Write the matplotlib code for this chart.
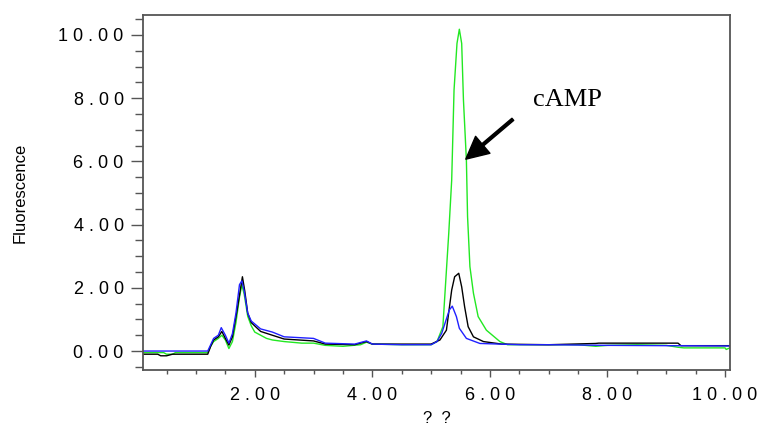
import matplotlib
matplotlib.use('Agg')
import matplotlib.pyplot as plt
from matplotlib.ticker import MultipleLocator, FuncFormatter

# retention time (x) and fluorescence (y)
green_x = [0.1, 0.45, 0.5, 0.6, 0.65, 1.2, 1.25, 1.3, 1.38, 1.44, 1.5, 1.56, 1.62, 1.68, 1.74, 1.78,
           1.82, 1.88, 1.94, 2.0, 2.1, 2.2, 2.3, 2.5, 2.8, 3.0, 3.2, 3.5, 3.8, 3.9, 4.0, 4.5, 5.0,
           5.1, 5.2, 5.3, 5.35, 5.39, 5.44, 5.48, 5.52, 5.55, 5.60, 5.62, 5.66, 5.72, 5.80, 5.94,
           6.17, 6.3, 7.0, 7.5, 7.8, 8.0, 8.5, 9.0, 9.2, 9.3, 10.0, 10.02, 10.08]
green_y = [-0.05, -0.05, -0.1, -0.1, -0.05, -0.05, 0.15, 0.3, 0.4, 0.5, 0.35, 0.08, 0.3, 0.9, 1.7,
           2.1, 1.8, 1.1, 0.8, 0.6, 0.5, 0.4, 0.35, 0.3, 0.25, 0.25, 0.18, 0.15, 0.2, 0.28, 0.22,
           0.2, 0.2, 0.3, 0.77, 3.73, 5.41, 8.26, 9.73, 10.18, 9.73, 7.94, 6.04, 4.25, 2.67, 1.83,
           1.09, 0.66, 0.3, 0.2, 0.2, 0.2, 0.15, 0.18, 0.2, 0.18, 0.12, 0.1, 0.1, 0.05, 0.1]

black_x = [0.1, 0.35, 0.4, 0.5, 0.6, 1.2, 1.25, 1.3, 1.38, 1.44, 1.5, 1.56, 1.62, 1.7, 1.76, 1.79,
           1.83, 1.88, 1.94, 2.1, 2.3, 2.5, 3.0, 3.2, 3.7, 3.9, 4.0, 4.5, 5.0, 5.15, 5.26, 5.35,
           5.40, 5.47, 5.52, 5.57, 5.63, 5.72, 5.89, 6.2, 7.0, 7.8, 7.85, 9.2, 9.25, 10.08]
black_y = [-0.1, -0.1, -0.15, -0.15, -0.1, -0.1, 0.15, 0.35, 0.45, 0.62, 0.4, 0.19, 0.45, 1.3, 2.0,
           2.35, 1.9, 1.2, 0.9, 0.62, 0.5, 0.38, 0.32, 0.22, 0.2, 0.3, 0.22, 0.22, 0.22, 0.35, 0.66,
           1.93, 2.35, 2.46, 2.03, 1.4, 0.77, 0.45, 0.3, 0.22, 0.2, 0.24, 0.25, 0.25, 0.17, 0.17]

blue_x = [0.1, 1.2, 1.25, 1.3, 1.38, 1.43, 1.5, 1.56, 1.62, 1.68, 1.74, 1.78, 1.82, 1.88, 1.94, 2.1,
          2.3, 2.5, 3.0, 3.2, 3.7, 3.9, 4.0, 4.5, 5.0, 5.1, 5.18, 5.31, 5.36, 5.43, 5.48, 5.60,
          5.83, 6.5, 7.0, 8.0, 9.0, 10.08]
blue_y = [0.0, 0.0, 0.2, 0.4, 0.5, 0.74, 0.5, 0.25, 0.55, 1.2, 2.1, 2.22, 1.9, 1.2, 0.95, 0.7,
          0.6, 0.45, 0.4, 0.25, 0.22, 0.32, 0.22, 0.2, 0.2, 0.3, 0.56, 1.3, 1.42, 1.09, 0.72, 0.4,
          0.24, 0.2, 0.2, 0.18, 0.17, 0.16]

peak_label = 'cAMP'
arrow_tail = (6.39, 7.33)
arrow_head = (5.59, 6.07)

plt.rcParams['font.family'] = ['Liberation Sans', 'DejaVu Sans']

fig = plt.figure(figsize=(7.57, 4.29), dpi=100)
ax = fig.add_axes([0.189, 0.1375, 0.775, 0.8275])

ax.plot(green_x, green_y, color='#22e822', lw=1.0)
ax.plot(black_x, black_y, color='black', lw=1.0)
ax.plot(blue_x, blue_y, color='#2020ff', lw=1.0)

ax.set_xlim(0.1, 10.08)
ax.set_ylim(-0.6, 10.63)

spaced = FuncFormatter(lambda v, pos: ' '.join(f'{v:.2f}'))
ax.xaxis.set_major_locator(MultipleLocator(2))
ax.xaxis.set_minor_locator(MultipleLocator(0.5))
ax.yaxis.set_major_locator(MultipleLocator(2))
ax.yaxis.set_minor_locator(MultipleLocator(0.5))
ax.xaxis.set_major_formatter(spaced)
ax.yaxis.set_major_formatter(spaced)

ax.tick_params(axis='y', which='major', length=9, width=1, color='#555555', pad=5, labelsize=13)
ax.tick_params(axis='y', which='minor', length=5.5, width=1, color='#555555')
ax.tick_params(axis='x', which='major', length=5, width=1, color='#555555', pad=7, labelsize=13)
ax.tick_params(axis='x', which='minor', length=3, width=1, color='#555555')
for s in ax.spines.values():
    s.set_color('#555555')
    s.set_linewidth(1.3)

ax.set_ylabel('Fluorescence', fontsize=12, labelpad=22)
ax.set_xlabel('?  ?', fontsize=12, labelpad=5)

ax.annotate('', xy=arrow_head, xytext=arrow_tail,
            arrowprops=dict(facecolor='black', edgecolor='black', width=2,
                            headwidth=16, headlength=16, shrink=0))
ax.text(6.73, 7.75, peak_label, fontsize=19, family='Liberation Serif', va='baseline')

fig.savefig('out.png', dpi=100)
